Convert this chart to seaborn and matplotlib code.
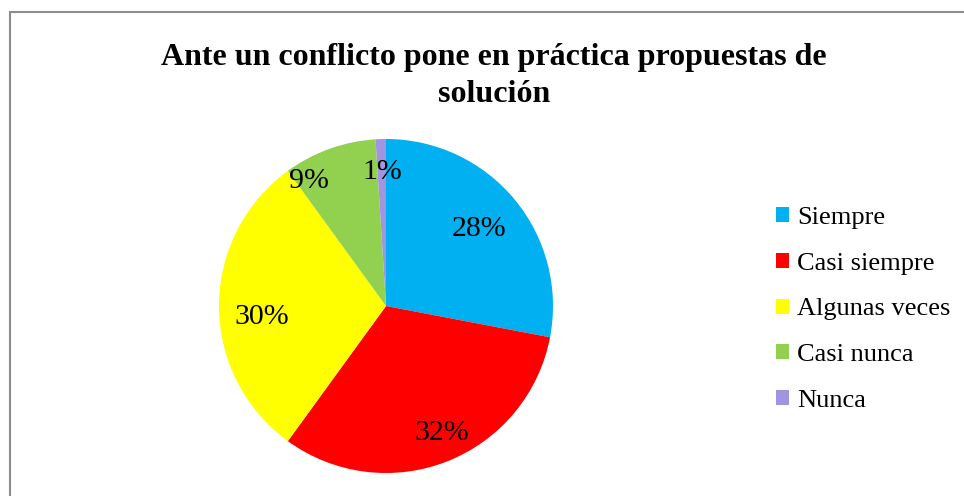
import numpy as np
import matplotlib
matplotlib.use("Agg")
import matplotlib.pyplot as plt
from matplotlib.patches import Rectangle
import seaborn as sns

# data
categories = ["Siempre", "Casi siempre", "Algunas veces", "Casi nunca", "Nunca"]
percentages = [28, 32, 30, 9, 1]
colors = ["#00B0F0", "#FF0000", "#FFFF00", "#92D050", "#A195E2"]
title = "Ante un conflicto pone en práctica propuestas de\nsolución"

# label placement tweaks (radius fraction, angular shift in degrees)
label_dist = [0.72, 0.83, 0.745, 0.88, 0.80]
label_shift = [0, 2, 5, 12, 0]

sns.set_theme(style="white")
plt.rcParams["font.family"] = ["Liberation Serif", "DejaVu Serif"]
plt.rcParams["text.color"] = "black"

fig = plt.figure(figsize=(9.64, 4.96), dpi=100)
fig.patch.set_facecolor("white")

# outer frame like the office chart border
fig.patches.append(Rectangle((10 / 964, -0.1), 1.2, 1.1 - 12 / 496,
                             transform=fig.transFigure, fill=False,
                             edgecolor="#8c8c8c", linewidth=1.5))

cx, cy, r = 386, 306, 167
ax = fig.add_axes([(cx - r) / 964, (496 - cy - r) / 496, 2 * r / 964, 2 * r / 496])
wedges, texts, autotexts = ax.pie(
    percentages, colors=colors, startangle=90, counterclock=False,
    autopct="%1.0f%%", pctdistance=0.75, radius=1,
    wedgeprops=dict(linewidth=0), textprops=dict(fontsize=21.5, color="black"))
ax.set_xlim(-1, 1)
ax.set_ylim(-1, 1)
ax.set_aspect("equal")
ax.axis("off")

for w, t, d, s in zip(wedges, autotexts, label_dist, label_shift):
    ang = np.deg2rad((w.theta1 + w.theta2) / 2 + s)
    t.set_position((d * np.cos(ang), d * np.sin(ang)))

fig.text(494 / 964, 1 - 76 / 496, title, ha="center", va="center",
         fontsize=23, fontweight="bold", linespacing=1.38, color="black")

fig.legend(wedges, categories, loc="center left",
           bbox_to_anchor=(776 / 964, 1 - 309.5 / 496), frameon=False,
           fontsize=19, handlelength=0.5, handleheight=0.5,
           handletextpad=0.3, labelspacing=0.9, borderpad=0, borderaxespad=0)

fig.savefig("out.png", dpi=100)
